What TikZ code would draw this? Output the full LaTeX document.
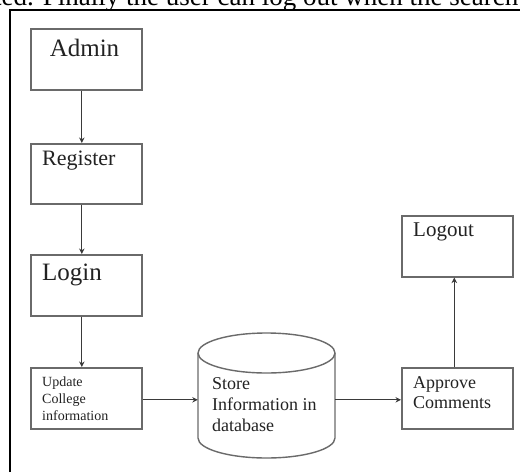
\documentclass[tikz,border=0pt]{standalone}
\usepackage{fontspec}
\setmainfont{Liberation Serif}
\usetikzlibrary{arrows.meta}
\begin{document}
\begin{tikzpicture}[x=1pt,y=-1pt,
  box/.style={draw=boxgray,line width=1.6pt,minimum width=111pt,minimum height=61pt,inner sep=0pt,anchor=north west},
  lbl/.style={anchor=base west,inner sep=0pt,text=txtgray,align=left},
  conn/.style={draw=arrgray,line width=1pt,-{Stealth[length=5.5pt,width=5.5pt]}}]
\definecolor{boxgray}{HTML}{6A6A6A}
\definecolor{arrgray}{HTML}{3A3A3A}
\definecolor{txtgray}{HTML}{222222}
\useasboundingbox (0,0) rectangle (520,472);
\clip (0,0) rectangle (520,472);
\fill[white] (0,0) rectangle (520,472);
% cut-off line of text above the frame
\node[anchor=base west,inner sep=0pt,font=\fontsize{27}{29}\selectfont] (topline) at (-6,5) {ted. Finally the user can log out when the search};
% outer frame
\draw[line width=1.6pt] (10,472) -- (10,10) -- (520,10);
% boxes
\node[box] (admin) at (30,28) {};
\node[box,minimum height=60pt] (register) at (30,143) {};
\node[box] (login) at (30,254) {};
\node[box] (update) at (30,367) {};
\node[box] (approve) at (401,367) {};
\node[box] (logout) at (401,215) {};
% database cylinder
\node[minimum width=137pt,minimum height=125pt,inner sep=0pt] (db) at (266.5,395.5) {};
\draw[draw=boxgray,line width=1.4pt] (266.5,353) ellipse [x radius=68.5pt,y radius=20pt];
\draw[draw=boxgray,line width=1.4pt] (198,353) -- (198,438) arc[start angle=180,end angle=360,x radius=68.5pt,y radius=20pt] -- (335,353);
% texts (base anchor of a multi-line text is its last line)
\node[lbl,anchor=base,font=\fontsize{25}{27}\selectfont] (admint) at (84.5,56) {Admin};
\node[lbl,font=\fontsize{22}{24}\selectfont] (registert) at (42,165) {Register};
\node[lbl,font=\fontsize{25}{27}\selectfont] (logint) at (42,280) {Login};
\node[lbl,font=\fontsize{14}{17}\selectfont] (updatet) at (42,420) {Update\\College\\information};
\node[lbl,font=\fontsize{18}{21}\selectfont] (dbt) at (212,431) {Store\\Information in\\database};
\node[lbl,font=\fontsize{18}{20}\selectfont] (approvet) at (413,408) {Approve\\Comments};
\node[lbl,font=\fontsize{21}{23}\selectfont] (logoutt) at (413,236) {Logout};
% connectors
\draw[conn] ([xshift=-4.5pt]admin.south) -- ([xshift=-4.5pt]register.north);
\draw[conn] ([xshift=-4.5pt]register.south) -- ([xshift=-4.5pt]login.north);
\draw[conn] ([xshift=-4.5pt]login.south) -- ([xshift=-4.5pt]update.north);
\draw[conn] ([yshift=-1.5pt]update.east) -- ([yshift=-1.5pt]update.east -| db.west);
\draw[conn] ([yshift=-1.5pt]approve.west -| db.east) -- ([yshift=-1.5pt]approve.west);
\draw[conn] ([xshift=-3pt]approve.north) -- ([xshift=-3pt]logout.south);
\end{tikzpicture}
\end{document}
